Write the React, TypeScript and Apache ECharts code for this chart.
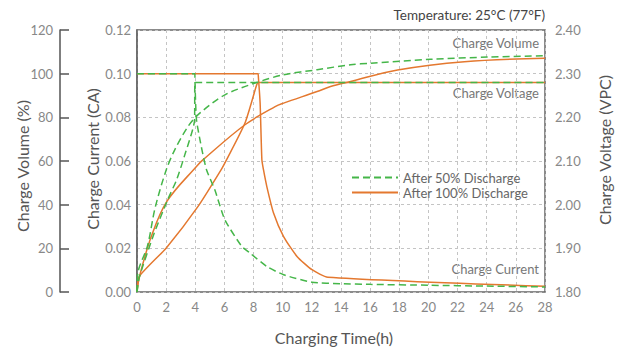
import React, { useEffect, useRef } from "react";
import * as echarts from "echarts";

// ---- data ----
const xTicks = [0, 2, 4, 6, 8, 10, 12, 14, 16, 18, 20, 22, 24, 26, 28];

// Charge current (CA)
const cur50T = [0, 3.97, 3.98, 4.08, 4.4, 4.77, 5.34, 6.03, 7.19, 7.76, 8.91, 10.06, 12.0, 14.0, 16.0, 20.0, 24.0, 28.0];
const cur50V = [0.1, 0.1, 0.096, 0.079, 0.067, 0.056, 0.0468, 0.0331, 0.0209, 0.0178, 0.0117, 0.0079, 0.0045, 0.0038, 0.0035, 0.0031, 0.0027, 0.0023];
const cur100T = [0, 8.3, 8.33, 8.45, 8.57, 8.68, 8.91, 9.37, 10.06, 10.98, 12.01, 13.1, 28];
const cur100V = [0.1, 0.1, 0.0985, 0.0865, 0.0606, 0.056, 0.0483, 0.0362, 0.0254, 0.0163, 0.0102, 0.0068, 0.0026];

// Charge voltage (V/cell)
const volt50T = [0, 0.17, 1.14, 2.1, 2.72, 3.28, 3.95, 3.97, 28];
const volt50V = [1.8, 1.835, 1.931, 2.011, 2.057, 2.114, 2.194, 2.28, 2.28];
const volt100T = [0, 0.17, 2.01, 4.19, 5.81, 6.15, 7.41, 8.22, 8.33, 28];
const volt100V = [1.8, 1.836, 1.901, 1.996, 2.082, 2.103, 2.187, 2.275, 2.28, 2.28];

// Charge volume (%)
const vol50T = [0, 0.06, 0.72, 1.24, 2.01, 2.59, 3.5, 4.31, 6.03, 8.1, 10.06, 12.36, 14.66, 16.03, 20.17, 24.08, 28];
const vol50V = [0, 8.8, 21.1, 38.5, 56.0, 65.1, 75.8, 81.9, 90.3, 95.7, 99.5, 101.8, 104.1, 104.8, 106.6, 107.6, 108.2];
const vol100T = [0, 0.17, 0.98, 2.05, 4.08, 4.54, 7.41, 9.48, 10.06, 12.36, 13.28, 14.66, 17.88, 22.47, 28];
const vol100V = [0, 7.1, 25.4, 41.5, 57.5, 60.6, 76.6, 84.9, 86.5, 91.8, 94.1, 96.4, 101.7, 105.5, 107.1];

const name50 = "After 50% Discharge";
const name100 = "After 100% Discharge";
const green = "#45b649";
const orange = "#e4782f";

const zip = (t: number[], v: number[]) => t.map((x, i) => [x, v[i]]);

const FONT = "Lato, 'Noto Sans', sans-serif";

export default function App() {
  const ref = useRef<HTMLDivElement>(null);
  useEffect(() => {
    if (!ref.current) return;
    const chart = echarts.init(ref.current, undefined, { renderer: "svg" });
    const gridDash = { color: "#c4c4c4", type: [3, 3] as any, width: 1 };
    const orangeStyle = { color: orange, width: 1.5, type: "solid" as any };
    const greenStyle = { color: green, width: 1.5, type: [7, 4] as any };
    const mk = (name: string, t: number[], v: number[], yIdx: number, style: any, z: number, smooth: number) => ({
      type: "line",
      name,
      data: zip(t, v),
      yAxisIndex: yIdx,
      symbol: "none",
      smooth,
      lineStyle: style,
      itemStyle: { color: style.color },
      z,
    });
    chart.setOption({
      animation: false,
      textStyle: { fontFamily: FONT },
      grid: {
        left: 137,
        right: 79,
        top: 30,
        bottom: 56,
        show: true,
        borderColor: "#666",
        borderWidth: 1.5,
        backgroundColor: "transparent",
      },
      legend: {
        orient: "vertical",
        left: 346,
        top: 166,
        itemWidth: 46,
        itemHeight: 14,
        itemGap: 2,
        itemStyle: { opacity: 0 },
        data: [name50, name100],
        textStyle: { color: "#666", fontSize: 13, fontFamily: FONT },
      },
      xAxis: {
        type: "value",
        min: 0,
        max: 28,
        interval: 2,
        axisLine: { show: false },
        axisTick: { show: false },
        axisLabel: { color: "#888", fontSize: 13, margin: 8, fontFamily: FONT },
        splitLine: { show: true, lineStyle: gridDash },
        data: xTicks,
      },
      yAxis: [
        {
          type: "value",
          min: 0,
          max: 0.12,
          interval: 0.02,
          position: "left",
          axisLine: { show: true, lineStyle: { color: "#666", width: 1.5 } },
          axisTick: { show: false },
          axisLabel: { color: "#888", fontSize: 13, margin: 6, formatter: (v: number) => v.toFixed(2), fontFamily: FONT },
          splitLine: { show: true, lineStyle: gridDash },
        },
        {
          type: "value",
          min: 0,
          max: 120,
          interval: 20,
          position: "left",
          offset: 77,
          axisLine: { show: true, lineStyle: { color: "#555", width: 1.5 } },
          axisTick: { show: true, inside: true, length: 9, lineStyle: { color: "#555", width: 1.5 } },
          axisLabel: { color: "#888", fontSize: 13, margin: 7, fontFamily: FONT },
          splitLine: { show: false },
        },
        {
          type: "value",
          min: 1.8,
          max: 2.4,
          interval: 0.1,
          position: "right",
          axisLine: { show: false },
          axisTick: { show: false },
          axisLabel: { color: "#888", fontSize: 13, margin: 10, formatter: (v: number) => v.toFixed(2), fontFamily: FONT },
          splitLine: { show: false },
        },
      ],
      series: [
        mk(name100, cur100T, cur100V, 0, orangeStyle, 2, 0.2),
        mk(name100, volt100T, volt100V, 2, orangeStyle, 2, 0.2),
        mk(name100, vol100T, vol100V, 1, orangeStyle, 2, 0.35),
        mk(name50, cur50T, cur50V, 0, greenStyle, 3, 0.2),
        mk(name50, volt50T, volt50V, 2, greenStyle, 3, 0.2),
        mk(name50, vol50T, vol50V, 1, greenStyle, 3, 0.3),
      ],
      graphic: [
        { type: "text", x: 545, y: 15, style: { text: "Temperature: 25°C (77°F)", fill: "#444", fontSize: 13.5, fontFamily: FONT, align: "right", verticalAlign: "middle" } },
        { type: "text", x: 539, y: 43, style: { text: "Charge Volume", fill: "#777", fontSize: 13, fontFamily: FONT, align: "right", verticalAlign: "middle" } },
        { type: "text", x: 539, y: 93, style: { text: "Charge Voltage", fill: "#777", fontSize: 13, fontFamily: FONT, align: "right", verticalAlign: "middle" } },
        { type: "text", x: 539, y: 269, style: { text: "Charge Current", fill: "#777", fontSize: 13, fontFamily: FONT, align: "right", verticalAlign: "middle" } },
        { type: "text", x: 22, y: 166, rotation: Math.PI / 2, style: { text: "Charge Volume (%)", fill: "#555", fontSize: 16, fontFamily: FONT, align: "center", verticalAlign: "middle" } },
        { type: "text", x: 92, y: 159, rotation: Math.PI / 2, style: { text: "Charge Current (CA)", fill: "#555", fontSize: 16, fontFamily: FONT, align: "center", verticalAlign: "middle" } },
        { type: "text", x: 604, y: 150, rotation: Math.PI / 2, style: { text: "Charge Voltage (VPC)", fill: "#555", fontSize: 16, fontFamily: FONT, align: "center", verticalAlign: "middle" } },
        { type: "text", x: 334, y: 337, style: { text: "Charging Time(h)", fill: "#555", fontSize: 16, fontFamily: FONT, align: "center", verticalAlign: "middle" } },
      ],
    });
    return () => chart.dispose();
  }, []);
  return (
    <div
      ref={ref}
      style={{ position: "absolute", left: 0, top: 0, width: 624, height: 348, background: "#fff" }}
    />
  );
}
